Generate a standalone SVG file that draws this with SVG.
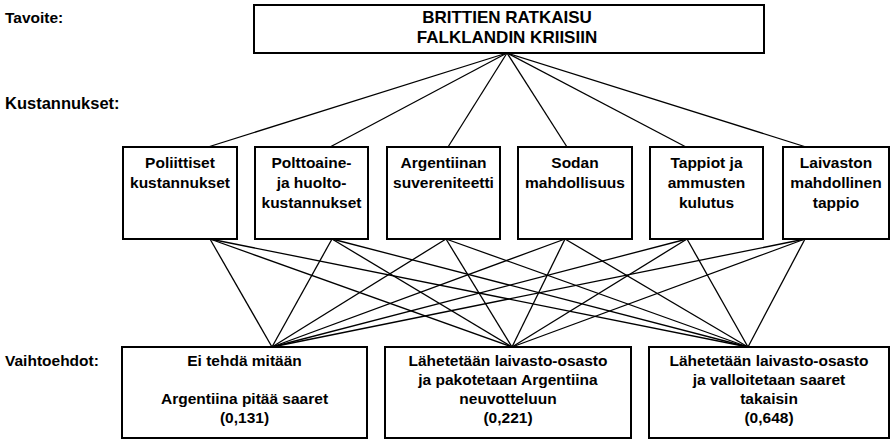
<svg xmlns="http://www.w3.org/2000/svg" width="891" height="440" viewBox="0 0 891 440">
<style>
.box{fill:#fff;stroke:#000;stroke-width:2}
.t{font-family:"Liberation Sans",Arial,sans-serif;font-weight:bold;font-size:15.5px;fill:#000}
.big{font-size:17px}
.c{text-anchor:middle}
.ln{stroke:#000;stroke-width:1.3;fill:none}
</style>
<rect width="891" height="440" fill="#fff"/>
<g id="labels">
<text class="t" x="5" y="23">Tavoite:</text>
<text class="t" x="5" y="109" style="font-size:16.5px">Kustannukset:</text>
<text class="t" x="5" y="366">Vaihtoehdot:</text>
</g>
<g id="connectors">
<line class="ln" x1="507" y1="53" x2="208" y2="147"/>
<line class="ln" x1="507" y1="53" x2="330" y2="147"/>
<line class="ln" x1="507" y1="53" x2="448" y2="147"/>
<line class="ln" x1="507" y1="53" x2="567" y2="147"/>
<line class="ln" x1="507" y1="53" x2="686" y2="147"/>
<line class="ln" x1="507" y1="53" x2="806" y2="147"/>
<line class="ln" x1="210" y1="239" x2="272" y2="347"/>
<line class="ln" x1="210" y1="239" x2="512" y2="347"/>
<line class="ln" x1="210" y1="239" x2="748" y2="347"/>
<line class="ln" x1="332" y1="239" x2="272" y2="347"/>
<line class="ln" x1="332" y1="239" x2="512" y2="347"/>
<line class="ln" x1="332" y1="239" x2="748" y2="347"/>
<line class="ln" x1="446" y1="239" x2="272" y2="347"/>
<line class="ln" x1="446" y1="239" x2="512" y2="347"/>
<line class="ln" x1="446" y1="239" x2="748" y2="347"/>
<line class="ln" x1="565" y1="239" x2="272" y2="347"/>
<line class="ln" x1="565" y1="239" x2="512" y2="347"/>
<line class="ln" x1="565" y1="239" x2="748" y2="347"/>
<line class="ln" x1="687" y1="239" x2="272" y2="347"/>
<line class="ln" x1="687" y1="239" x2="512" y2="347"/>
<line class="ln" x1="687" y1="239" x2="748" y2="347"/>
<line class="ln" x1="805" y1="239" x2="272" y2="347"/>
<line class="ln" x1="805" y1="239" x2="512" y2="347"/>
<line class="ln" x1="805" y1="239" x2="748" y2="347"/>
</g>
<g id="goal">
<rect class="box" x="254" y="5" width="510" height="48"/>
<text class="t c big" x="507" y="23">BRITTIEN RATKAISU</text>
<text class="t c big" x="507" y="43">FALKLANDIN KRIISIIN</text>
</g>
<g id="cost1">
<rect class="box" x="123" y="147" width="114" height="92"/>
<text class="t c" x="180" y="168">Poliittiset</text>
<text class="t c" x="180" y="188">kustannukset</text>
</g>
<g id="cost2">
<rect class="box" x="255" y="147" width="113" height="92"/>
<text class="t c" x="311.5" y="168">Polttoaine-</text>
<text class="t c" x="311.5" y="188">ja huolto-</text>
<text class="t c" x="311.5" y="208">kustannukset</text>
</g>
<g id="cost3">
<rect class="box" x="387" y="147" width="113" height="92"/>
<text class="t c" x="443.5" y="168">Argentiinan</text>
<text class="t c" x="443.5" y="188">suvereniteetti</text>
</g>
<g id="cost4">
<rect class="box" x="518" y="147" width="114" height="92"/>
<text class="t c" x="575" y="168">Sodan</text>
<text class="t c" x="575" y="188">mahdollisuus</text>
</g>
<g id="cost5">
<rect class="box" x="650" y="147" width="113" height="92"/>
<text class="t c" x="706.5" y="168">Tappiot ja</text>
<text class="t c" x="706.5" y="188">ammusten</text>
<text class="t c" x="706.5" y="208">kulutus</text>
</g>
<g id="cost6">
<rect class="box" x="783" y="147" width="106" height="92"/>
<text class="t c" x="836" y="168">Laivaston</text>
<text class="t c" x="836" y="188">mahdollinen</text>
<text class="t c" x="836" y="208">tappio</text>
</g>
<g id="alt1">
<rect class="box" x="122" y="347" width="245" height="91"/>
<text class="t c" x="244.5" y="366">Ei tehdä mitään</text>
<text class="t c" x="244.5" y="404">Argentiina pitää saaret</text>
<text class="t c" x="244.5" y="423">(0,131)</text>
</g>
<g id="alt2">
<rect class="box" x="385" y="347" width="246" height="91"/>
<text class="t c" x="508" y="366">Lähetetään laivasto-osasto</text>
<text class="t c" x="508" y="385">ja pakotetaan Argentiina</text>
<text class="t c" x="508" y="404">neuvotteluun</text>
<text class="t c" x="508" y="423">(0,221)</text>
</g>
<g id="alt3">
<rect class="box" x="649" y="347" width="240" height="91"/>
<text class="t c" x="769" y="366">Lähetetään laivasto-osasto</text>
<text class="t c" x="769" y="385">ja valloitetaan saaret</text>
<text class="t c" x="769" y="404">takaisin</text>
<text class="t c" x="769" y="423">(0,648)</text>
</g>
</svg>
